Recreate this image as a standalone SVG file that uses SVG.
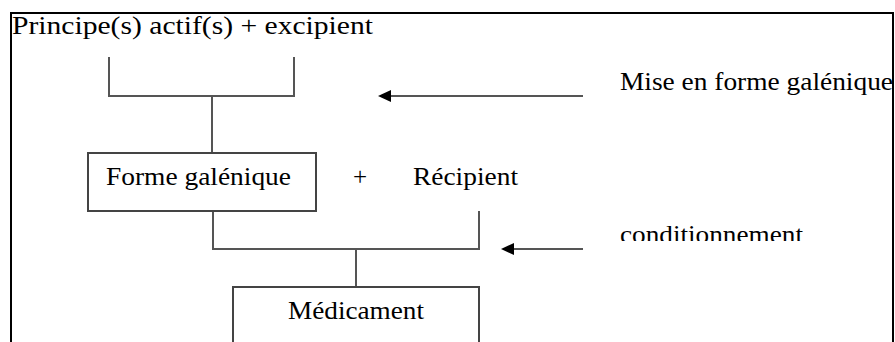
<svg xmlns="http://www.w3.org/2000/svg" width="895" height="342" viewBox="0 0 895 342">
<style>
text{font-family:"Liberation Serif","Times New Roman",serif;fill:#000;font-size:25px}
.box{fill:#fff;stroke:#444;stroke-width:2}
.ln{fill:none;stroke:#555;stroke-width:2}
.ah{fill:#000}
</style>
<defs>
<clipPath id="cl"><rect x="600" y="200" width="290" height="41"/></clipPath>
</defs>
<rect id="frame" x="11" y="13" width="882" height="400" fill="#fff" stroke="#000" stroke-width="2"/>
<g id="title"><text x="12" y="34" font-size="27" textLength="361" lengthAdjust="spacingAndGlyphs">Principe(s) actif(s) + excipient</text></g>
<g id="connectors">
<path class="ln" d="M109,57 V96 H294 V57 M212,96 V153"/>
<path class="ln" d="M213,211 V249 H479 V211 M356,249 V287"/>
<line class="ln" x1="583" y1="96" x2="388" y2="96"/>
<polygon class="ah" points="378,96 391,90 391,102"/>
<line class="ln" x1="583" y1="249" x2="511" y2="249"/>
<polygon class="ah" points="501,249 514,243 514,255"/>
</g>
<g id="label-mise"><text x="620" y="90" textLength="273" lengthAdjust="spacingAndGlyphs">Mise en forme galénique</text></g>
<g id="forme"><rect class="box" x="88" y="153" width="228" height="58"/><text x="106" y="185" textLength="185" lengthAdjust="spacingAndGlyphs">Forme galénique</text></g>
<g id="plus"><text x="360" y="185" text-anchor="middle">+</text></g>
<g id="recipient"><text x="413" y="185" textLength="105" lengthAdjust="spacingAndGlyphs">Récipient</text></g>
<g id="label-cond" clip-path="url(#cl)"><text x="620" y="243" textLength="183" lengthAdjust="spacingAndGlyphs">conditionnement</text></g>
<g id="medicament"><rect class="box" x="233" y="287" width="246" height="80"/><text x="288" y="319" textLength="136" lengthAdjust="spacingAndGlyphs">Médicament</text></g>
</svg>
